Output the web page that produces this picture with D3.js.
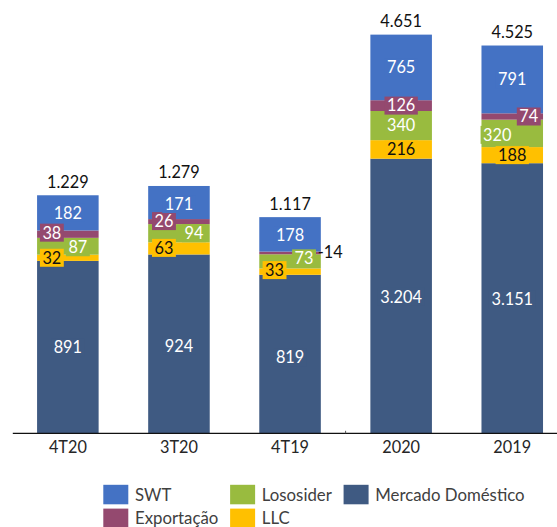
<!DOCTYPE html>
<html><head><meta charset="utf-8">
<script src="https://cdn.jsdelivr.net/npm/d3@7"></script>
<style>
body{margin:0;background:#fff}
svg{display:block}
text{font-family:Lato,"Liberation Sans",sans-serif}
</style>
</head><body>
<svg id="chart" width="557" height="527"></svg>
<script>
// ---- data ----
const categories = ["4T20", "3T20", "4T19", "2020", "2019"];
const mercadoDomestico = [891, 924, 819, 3204, 3151];
const llc = [32, 63, 33, 216, 188];
const lososider = [87, 94, 73, 340, 320];
const exportacao = [38, 26, -14, 126, 74];
const swt = [182, 171, 178, 765, 791];
const totals = [1229, 1279, 1117, 4651, 4525];
const axisGroup = ["trimestre", "trimestre", "trimestre", "ano", "ano"];
const seriesNames = ["Mercado Doméstico", "LLC", "Lososider", "Exportação", "SWT"];
const legendOrder = ["SWT", "Exportação", "Lososider", "LLC", "Mercado Doméstico"];

// ---- layout / style ----
const W = 557, H = 527;
const baseY = 433.3;
const FS = 16.3;
const LFS = 16.8;
const colors = {
  "Mercado Doméstico": "#3F5A82",
  "LLC": "#FFC000",
  "Lososider": "#99BB3F",
  "Exportação": "#94496F",
  "SWT": "#4472C4"
};
const textColor = {
  "Mercado Doméstico": "#ffffff", "LLC": "#111111", "Lososider": "#ffffff",
  "Exportação": "#ffffff", "SWT": "#ffffff"
};
// label nudges (Excel-style placement of small segment labels)
const labelShift = {
  "4T20": {"Exportação": [-16, -1.5], "Lososider": [10, 1], "LLC": [-16, 0]},
  "3T20": {"Exportação": [-15, -0.5], "Lososider": [15, 0], "LLC": [-15, -0.5], "SWT": [0, 1.5], "Mercado Doméstico": [0, 2]},
  "4T19": {"Lososider": [14, -3], "LLC": [-15.5, -1.5], "Mercado Doméstico": [0, 3], "SWT": [0, 1]},
  "2020": {"Mercado Doméstico": [0, 1]},
  "2019": {"Exportação": [16.5, 0], "Lososider": [-15, 1.5], "Mercado Doméstico": [0, 1]}
};

const svg = d3.select("#chart");
const rows = categories.map((c, i) => ({
  cat: c,
  "Mercado Doméstico": mercadoDomestico[i],
  "LLC": llc[i],
  "Lososider": lososider[i],
  "Exportação": exportacao[i],
  "SWT": swt[i],
  total: totals[i],
  group: axisGroup[i]
}));

const x = d3.scaleBand().domain(categories).range([12.3, 567.8])
  .paddingInner(0.446).paddingOuter(0.223);
const yScales = {
  trimestre: d3.scaleLinear().domain([0, 2239]).range([baseY, 0]),
  ano: d3.scaleLinear().domain([0, 5055]).range([baseY, 0])
};
const fmt = d3.formatLocale({decimal: ",", thousands: ".", grouping: [3], currency: ["", ""], minus: "-"}).format(",d");

const layers = d3.stack().keys(seriesNames).value((d, k) => Math.abs(d[k]))(rows);

// bars
svg.append("g").selectAll("g").data(layers).join("g")
  .attr("fill", d => colors[d.key])
  .selectAll("rect").data(d => d).join("rect")
  .attr("x", d => x(d.data.cat))
  .attr("width", x.bandwidth())
  .attr("y", d => yScales[d.data.group](d[1]))
  .attr("height", d => yScales[d.data.group](d[0]) - yScales[d.data.group](d[1]));

// axis
const axis = svg.append("g").attr("transform", `translate(0,${baseY - 0.5})`)
  .call(d3.axisBottom(x).tickSize(0).tickPadding(8.7));
axis.select(".domain").attr("stroke", "#111").attr("stroke-width", 1.3);
axis.selectAll("text").attr("font-size", FS).attr("font-family", "Lato, 'Liberation Sans', sans-serif").attr("fill", "#262626");
const sepX = (x("4T19") + x.bandwidth() + x("2020")) / 2;
svg.append("line").attr("x1", sepX).attr("x2", sepX).attr("y1", baseY - 2.5).attr("y2", baseY)
  .attr("stroke", "#555").attr("stroke-width", 1);

// segment labels
const labelG = svg.append("g");
layers.forEach(layer => {
  const key = layer.key;
  layer.forEach(d => {
    const cat = d.data.cat;
    const v = d.data[key];
    const y = yScales[d.data.group];
    const cy = (y(d[0]) + y(d[1])) / 2;
    const cx = x(cat) + x.bandwidth() / 2;
    if (v < 0) {
      labelG.append("text")
        .attr("x", x(cat) + x.bandwidth() - 3).attr("y", cy - 1).attr("dy", "0.36em")
        .attr("text-anchor", "start").attr("font-size", FS).attr("fill", "#111")
        .text(fmt(v));
      return;
    }
    const s = (labelShift[cat] || {})[key] || [0, 0];
    const g = labelG.append("g").attr("transform", `translate(${cx + s[0]},${cy + s[1]})`);
    const rect = g.append("rect").attr("fill", colors[key]);
    const t = g.append("text").attr("text-anchor", "middle").attr("dy", "0.36em")
      .attr("font-size", FS).attr("fill", textColor[key]).text(fmt(v));
    const w = t.node().getComputedTextLength() + 5;
    rect.attr("x", -w / 2).attr("y", -9).attr("width", w).attr("height", 18);
  });
});

// totals
svg.append("g").selectAll("text").data(rows).join("text")
  .attr("x", d => x(d.cat) + x.bandwidth() / 2)
  .attr("y", d => yScales[d.group](d.total) - 13.5)
  .attr("dy", "0.36em").attr("text-anchor", "middle")
  .attr("font-size", FS).attr("fill", "#111")
  .text(d => fmt(d.total));

// legend
const legend = svg.append("g");
let colX = 103.3;
const rowY = [494.5, 518.3];
for (let c = 0; c < Math.ceil(legendOrder.length / 2); c++) {
  let maxW = 0;
  for (let r = 0; r < 2; r++) {
    const name = legendOrder[c * 2 + r];
    if (!name) continue;
    legend.append("rect").attr("x", colX).attr("y", rowY[r] - 9.7)
      .attr("width", 25).attr("height", 19.5).attr("fill", colors[name]);
    const t = legend.append("text").attr("x", colX + 31.7).attr("y", rowY[r]).attr("dy", "0.36em")
      .attr("font-size", LFS).attr("fill", "#404040").text(name);
    maxW = Math.max(maxW, t.node().getComputedTextLength());
  }
  colX = colX + 31.7 + maxW + 11.8;
}
</script>
</body></html>
